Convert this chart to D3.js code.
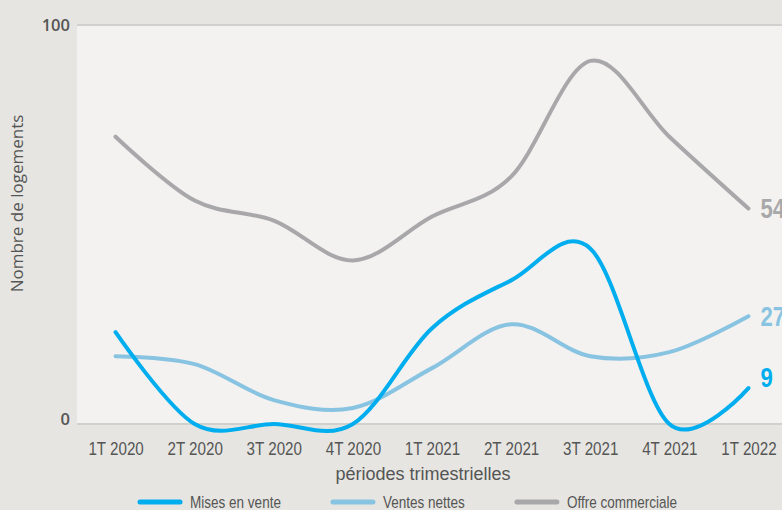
<!DOCTYPE html>
<html>
<head>
<meta charset="utf-8">
<script src="https://cdn.jsdelivr.net/npm/d3@7.9.0/dist/d3.min.js"></script>
<style>
  html, body { margin: 0; padding: 0; background: #e6e5e1; }
  svg { display: block; }
</style>
</head>
<body>
<svg id="chart" width="782" height="510"></svg>
<script>
// quarters on the x axis
const periods = ['1T 2020', '2T 2020', '3T 2020', '4T 2020', '1T 2021', '2T 2021', '3T 2021', '4T 2021', '1T 2022'];

// number of dwellings per quarter
const misesEnVente = [23, 0, 0, 0, 24, 36, 44, 0, 9];
const ventesNettes = [17, 15, 6, 4, 14, 25, 17, 18, 27];
const offreCommerciale = [72, 56, 51, 41, 52, 62, 91, 72, 54];

const yTicks = [0, 100];
const seriesNames = ['Mises en vente', 'Ventes nettes', 'Offre commerciale'];
const seriesColors = ['#00aeef', '#88c4e1', '#a8a8aa'];

const width = 782, height = 510;
const margin = { top: 25, right: -6, bottom: 86, left: 77 };
// no condensed face installed: squeeze Liberation Sans horizontally
const narrowFont = '"Liberation Sans", Arial, sans-serif';
const squeeze = 0.82;

const svg = d3.select('#chart');

function narrowText(parent, tx, ty, size, txt, sx = squeeze) {
    return parent.append('text')
        .attr('transform', `translate(${tx},${ty}) scale(${sx},1)`)
        .attr('font-family', narrowFont)
        .attr('font-size', size)
        .attr('fill', '#555')
        .text(txt);
}

let x = d3.scalePoint()
    .domain(periods)
    .range([margin.left - 1, width - margin.right])
    .padding(0.5);

let y = d3.scaleLinear()
    .domain([0, 100])
    .range([height - margin.bottom, margin.top]);

// plot background
svg.append('rect')
    .attr('x', margin.left)
    .attr('y', y(100))
    .attr('width', width - margin.left)
    .attr('height', y(0) - y(100))
    .attr('fill', '#f3f2f0');

// horizontal grid lines at 0 and 100
svg.selectAll('.grid')
    .data(yTicks)
    .join('line')
    .attr('x1', margin.left)
    .attr('x2', width)
    .attr('y1', d => y(d))
    .attr('y2', d => y(d))
    .attr('stroke', '#d0d0cd')
    .attr('stroke-width', 2);

// y tick labels
svg.selectAll('.ytick')
    .data(yTicks)
    .join('text')
    .attr('x', margin.left - 7)
    .attr('y', d => y(d))
    .attr('dy', d => d === 0 ? '0.05em' : '0.35em')
    .attr('text-anchor', 'end')
    .attr('font-family', '"Open Sans", sans-serif')
    .attr('font-weight', 600)
    .attr('font-size', 16.5)
    .attr('fill', '#555')
    .text(d => d);

// x axis labels
let xAxis = d3.axisBottom(x).tickSize(0).tickPadding(18);
let gx = svg.append('g')
    .attr('transform', `translate(0,${y(0)})`)
    .call(xAxis);
gx.select('.domain').remove();
gx.selectAll('text')
    .attr('transform', `scale(${squeeze},1)`)
    .attr('font-family', narrowFont)
    .attr('font-size', 18.5)
    .attr('fill', '#555');

// axis titles
narrowText(svg, 423, 480, 18, 'périodes trimestrielles', 1)
    .attr('text-anchor', 'middle');

svg.append('text')
    .attr('transform', `translate(23,${(y(0) + y(100)) / 2 - 21}) rotate(-90)`)
    .attr('text-anchor', 'middle')
    .attr('font-family', '"Open Sans", sans-serif')
    .attr('font-size', 17)
    .attr('fill', '#555')
    .text('Nombre de logements');

// lines
let lineGenerator = d3.line()
    .x((d, i) => x(periods[i]))
    .y(d => y(d))
    .curve(d3.curveCardinal);

const allSeries = [misesEnVente, ventesNettes, offreCommerciale];
const drawOrder = [2, 1, 0];
drawOrder.forEach(idx => {
    svg.append('path')
        .attr('d', lineGenerator(allSeries[idx]))
        .attr('fill', 'none')
        .attr('stroke', seriesColors[idx])
        .attr('stroke-width', 4)
        .attr('stroke-linecap', 'round');
});

// end labels
const lastPeriod = periods[periods.length - 1];
allSeries.forEach((values, idx) => {
    let last = values[values.length - 1];
    narrowText(svg, x(lastPeriod) + 12, y(last), 27, last)
        .attr('dy', idx === 0 ? '-0.05em' : '0.36em')
        .attr('font-weight', 'bold')
        .attr('fill', seriesColors[idx]);
});

// legend
let legendX = 138;
seriesNames.forEach((name, idx) => {
    let g = svg.append('g').attr('transform', `translate(${legendX},502)`);
    g.append('line')
        .attr('x1', 2).attr('x2', 42)
        .attr('y1', 0).attr('y2', 0)
        .attr('stroke', seriesColors[idx])
        .attr('stroke-width', 5)
        .attr('stroke-linecap', 'round');
    let label = narrowText(g, 52, 6, 16.5, name);
    legendX += 52 + label.node().getComputedTextLength() * squeeze + 50;
});
</script>
</body>
</html>
